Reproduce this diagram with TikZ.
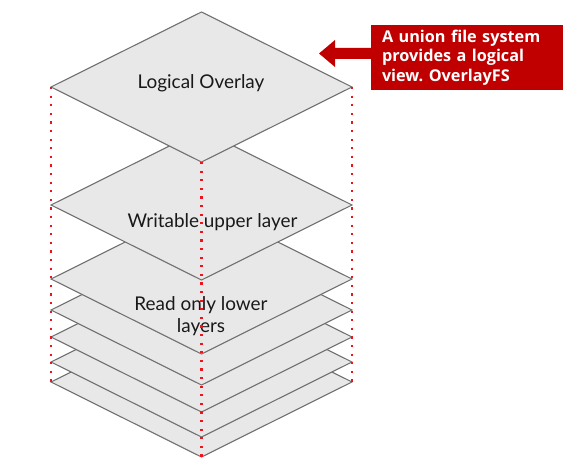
\documentclass[tikz,border=0pt]{standalone}
\usepackage{fontspec}
\setmainfont{Lato}
\newfontfamily\boxfont{Open Sans}
\usetikzlibrary{shapes.geometric}
\definecolor{layerfill}{RGB}{232,232,232}
\definecolor{layeredge}{RGB}{112,112,112}
\definecolor{dotred}{RGB}{238,20,30}
\definecolor{boxred}{RGB}{192,0,0}
\tikzset{
  layer/.style={diamond, draw=layeredge, fill=layerfill, line width=1.1bp,
    minimum width=301bp, minimum height=150bp, inner sep=0pt, outer sep=0pt},
  lbl/.style={font=\fontsize{19}{22}\selectfont, text=black!90, align=center, inner sep=0pt, anchor=base},
  guide/.style={draw=dotred, line width=2.2bp, dash pattern=on 2.2bp off 6.4bp},
  callout/.style={fill=boxred, text=white, font=\boxfont\fontsize{16.3}{19.5}\selectfont\bfseries,
    align=left, inner xsep=11bp, inner ysep=5bp, minimum width=187bp, minimum height=62bp,
    text width=170bp, anchor=north west, outer sep=0pt}
}
\frenchspacing
\begin{document}
\begin{tikzpicture}[x=1bp,y=-1bp]
\useasboundingbox (0,0) rectangle (569,465);
% read-only lower layers, bottom first
\node[layer] (r5) at (201.5,382) {};
\node[layer] (r4) at (201.5,362) {};
\node[layer] (r3) at (201.5,337) {};
\node[layer] (r2) at (201.5,310) {};
\node[layer] (r1) at (201.5,279) {};
% writable upper layer
\node[layer] (w) at (201.5,205) {};
% logical overlay
\node[layer] (top) at (201.5,87) {};
% labels
\node[lbl] (tlbl) at (201,89) {Logical Overlay};
\node[lbl] (wlbl) at (212.5,228) {Writable upper layer};
\node[lbl] (rlbl) at (201,332) {Read only lower\\layers};
% dotted guides
\draw[guide] (top.west) -- (r5.west);
\draw[guide] (top.east) -- (r5.east);
\draw[guide] (top.south) -- (r5.south);
% callout
\node[callout] (note) at (371,25) {A union file system\\provides a logical\\view. OverlayFS};
\coordinate (tip) at (319,53.5);
\fill[boxred] (note.west |- 0,48) -- (335,48) -- (335,40) -- (tip) -- (335,67) -- (335,59) -- (note.west |- 0,59) -- cycle;
\end{tikzpicture}
\end{document}
